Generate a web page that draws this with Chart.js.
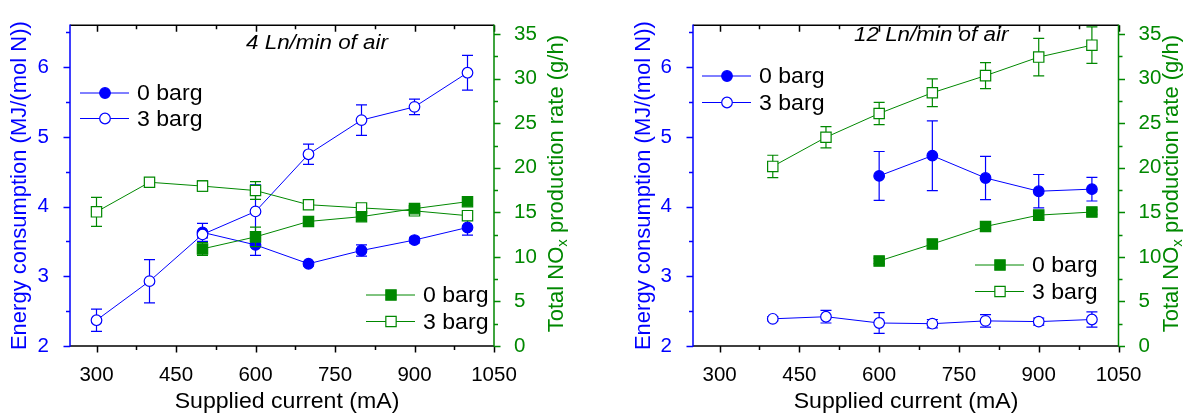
<!DOCTYPE html>
<html>
<head>
<meta charset="utf-8">
<title>Energy consumption and NOx production vs supplied current</title>
<script src="https://cdn.jsdelivr.net/npm/chart.js@4/dist/chart.umd.min.js"></script>
<style>
  html, body { margin: 0; padding: 0; background: #fff; }
  #wrap { position: relative; width: 1186px; height: 414px; overflow: hidden; }
  canvas { position: absolute; top: 0; }
</style>
</head>
<body>
<div id="wrap">
  <canvas id="panel4" width="593" height="414" style="left:0"></canvas>
  <canvas id="panel12" width="593" height="414" style="left:593px"></canvas>
</div>
<script>
// ---- measured data -------------------------------------------------------
const currents = [300, 400, 500, 600, 700, 800, 900, 1000];   // mA

// 4 Ln/min of air
const air4Energy0    = [null, null, 3.63, 3.45, 3.18, 3.37, 3.52, 3.70];   // MJ/(mol N)
const air4Energy0Err = [null, null, 0.13, 0.15, 0.03, 0.08, 0.04, 0.11];
const air4Energy3    = [2.37, 2.93, 3.60, 3.93, 4.75, 5.24, 5.43, 5.92];
const air4Energy3Err = [0.16, 0.31, 0.05, 0.38, 0.145, 0.22, 0.11, 0.25];
const air4Nox0       = [null, null, 10.9, 12.25, 13.98, 14.52, 15.42, 16.2]; // g/h
const air4Nox0Err    = [null, null, 0.72, 1.10, 0.30, 0.35, 0.40, 0.30];
const air4Nox3       = [15.06, 18.38, 17.95, 17.45, 15.86, 15.5, 15.17, 14.63];
const air4Nox3Err    = [1.63, 0.25, 0.60, 1.00, 0.35, 0.30, 0.35, 0.30];

// 12 Ln/min of air
const air12Energy0    = [null, null, null, 4.44, 4.73, 4.41, 4.22, 4.25];
const air12Energy0Err = [null, null, null, 0.35, 0.50, 0.31, 0.24, 0.17];
const air12Energy3    = [null, 2.39, 2.42, 2.33, 2.32, 2.36, 2.35, 2.38];
const air12Energy3Err = [null, 0.03, 0.09, 0.15, 0.06, 0.09, 0.05, 0.11];
const air12Nox0       = [null, null, null, 9.54, 11.45, 13.42, 14.69, 15.04];
const air12Nox0Err    = [null, null, null, 0.30, 0.45, 0.35, 0.35, 0.25];
const air12Nox3       = [null, 20.16, 23.43, 26.1, 28.43, 30.35, 32.43, 33.77];
const air12Nox3Err    = [null, 1.25, 1.20, 1.25, 1.55, 1.45, 2.10, 2.05];

// axis ticks (majors are labelled, the rest are minor marks)
const currentTicks = [300, 375, 450, 525, 600, 675, 750, 825, 900, 975, 1050];
const energyTicks  = [2, 2.5, 3, 3.5, 4, 4.5, 5, 5.5, 6, 6.5];
const noxTicks     = [0, 2.5, 5, 7.5, 10, 12.5, 15, 17.5, 20, 22.5, 25, 27.5, 30, 32.5, 35];

const seriesNames = ['0 barg', '3 barg'];

// ---- styling -------------------------------------------------------------
const BLUE = '#0000ff';
const GREEN = '#008800';
const FONT = "'Liberation Sans', Arial, sans-serif";

const isMajor = {
  x:  v => (v - 300) % 150 === 0,
  yE: v => Number.isInteger(v),
  yN: v => v % 5 === 0
};

function points(ys, errs) {
  const out = [];
  currents.forEach((x, i) => {
    if (ys[i] !== null) out.push({ x: x, y: ys[i], err: errs[i] });
  });
  return out;
}

function series(label, ys, errs, axis, color, filled, shape) {
  return {
    label: label,
    data: points(ys, errs),
    yAxisID: axis,
    borderColor: color,
    backgroundColor: color,
    borderWidth: 1,
    pointStyle: shape,
    pointRadius: shape === 'rect' ? 7.3 : 5.3,
    pointBorderWidth: 1.2,
    pointBorderColor: color,
    pointBackgroundColor: filled ? color : '#ffffff',
    fill: false,
    tension: 0
  };
}

// error bars, drawn just before the dataset they belong to
const errorBars = {
  id: 'errorBars',
  beforeDatasetDraw(chart, args) {
    const ds = chart.data.datasets[args.index];
    const meta = args.meta;
    const ys = chart.scales[ds.yAxisID];
    const ctx = chart.ctx;
    ctx.save();
    ctx.strokeStyle = ds.borderColor;
    ctx.lineWidth = 1.2;
    meta.data.forEach((el, i) => {
      const p = ds.data[i];
      if (!p.err) return;
      const x = el.x;
      const yTop = ys.getPixelForValue(p.y + p.err);
      const yBot = ys.getPixelForValue(p.y - p.err);
      ctx.beginPath();
      ctx.moveTo(x, yTop); ctx.lineTo(x, yBot);
      ctx.moveTo(x - 5.5, yTop); ctx.lineTo(x + 5.5, yTop);
      ctx.moveTo(x - 5.5, yBot); ctx.lineTo(x + 5.5, yBot);
      ctx.stroke();
    });
    ctx.restore();
  }
};

// frame lines and tick marks of all four sides
const frame = {
  id: 'frame',
  afterDraw(chart) {
    const ctx = chart.ctx;
    const a = chart.chartArea;
    const sx = chart.scales.x, sE = chart.scales.yE, sN = chart.scales.yN;
    const MAJ = 6.5, MIN = 4;
    ctx.save();
    ctx.lineWidth = 1.5;
    ctx.lineCap = 'butt';
    // bottom + top (black)
    ctx.strokeStyle = '#000';
    ctx.beginPath();
    ctx.moveTo(a.left, a.bottom); ctx.lineTo(a.right, a.bottom);
    ctx.moveTo(a.left, a.top); ctx.lineTo(a.right, a.top);
    sx.ticks.forEach(t => {
      const x = Math.round(sx.getPixelForValue(t.value)) + 0.5;
      const len = isMajor.x(t.value) ? MAJ : MIN;
      ctx.moveTo(x, a.bottom); ctx.lineTo(x, a.bottom + len);
      ctx.moveTo(x, a.top); ctx.lineTo(x, a.top + len);
    });
    ctx.stroke();
    // left (blue)
    ctx.strokeStyle = BLUE;
    ctx.beginPath();
    ctx.moveTo(a.left, a.top - 0.75); ctx.lineTo(a.left, a.bottom + 0.75);
    sE.ticks.forEach(t => {
      const y = Math.round(sE.getPixelForValue(t.value)) + 0.5;
      const len = isMajor.yE(t.value) ? MAJ : MIN;
      ctx.moveTo(a.left, y); ctx.lineTo(a.left - len, y);
    });
    ctx.stroke();
    // right (green)
    ctx.strokeStyle = GREEN;
    ctx.beginPath();
    ctx.moveTo(a.right, a.top - 0.75); ctx.lineTo(a.right, a.bottom + 0.75);
    sN.ticks.forEach(t => {
      const y = Math.round(sN.getPixelForValue(t.value)) + 0.5;
      const len = isMajor.yN(t.value) ? MAJ : MIN;
      ctx.moveTo(a.right, y); ctx.lineTo(a.right + len, y);
    });
    ctx.stroke();
    ctx.restore();
  }
};

// axis titles, in-plot note and the two split legends
const annotations = {
  id: 'annotations',
  afterDraw(chart, args, o) {
    const ctx = chart.ctx;
    const a = chart.chartArea;
    const WIDE = 1.05;
    ctx.save();
    ctx.textBaseline = 'middle';

    // x title
    ctx.save();
    ctx.fillStyle = '#000';
    ctx.font = '22px ' + FONT;
    ctx.textAlign = 'center';
    ctx.translate(o.xTitleX, 402);
    ctx.scale(WIDE, 1);
    ctx.fillText('Supplied current (mA)', 0, 0);
    ctx.restore();

    // left title
    ctx.save();
    ctx.translate(o.leftTitleX, (a.top + a.bottom) / 2);
    ctx.rotate(-Math.PI / 2);
    ctx.fillStyle = BLUE;
    ctx.font = '22px ' + FONT;
    ctx.textAlign = 'center';
    ctx.fillText('Energy consumption (MJ/(mol N))', 0, 0);
    ctx.restore();

    // right title with subscript
    ctx.save();
    ctx.translate(o.rightTitleX, (a.top + a.bottom) / 2 - 2);
    ctx.rotate(-Math.PI / 2);
    ctx.fillStyle = GREEN;
    ctx.textAlign = 'left';
    const big = '22px ' + FONT, small = '15px ' + FONT;
    const p1 = 'Total NO', p2 = 'x', p3 = ' production rate (g/h)';
    ctx.font = big;  const w1 = ctx.measureText(p1).width, w3 = ctx.measureText(p3).width;
    ctx.font = small; const w2 = ctx.measureText(p2).width;
    let x0 = -(w1 + w2 + w3) / 2;
    ctx.font = big;  ctx.fillText(p1, x0, 0);
    ctx.font = small; ctx.fillText(p2, x0 + w1, 6);
    ctx.font = big;  ctx.fillText(p3, x0 + w1 + w2, 0);
    ctx.restore();

    // note
    ctx.fillStyle = '#000';
    ctx.textAlign = 'left';
    ctx.font = 'italic 20px ' + FONT;
    ctx.save();
    ctx.translate(o.noteX, o.noteY);
    ctx.scale(1.12, 1);
    ctx.fillText(o.note, 0, 0);
    ctx.restore();

    // legends
    const drawLegend = (lg, idxs) => {
      idxs.forEach((di, row) => {
        const ds = chart.data.datasets[di];
        const y = lg.y + row * lg.dy;
        ctx.strokeStyle = ds.borderColor;
        ctx.lineWidth = 1;
        ctx.beginPath();
        ctx.moveTo(lg.x, y); ctx.lineTo(lg.x + 49, y);
        ctx.stroke();
        ctx.fillStyle = ds.pointBackgroundColor;
        ctx.strokeStyle = ds.pointBorderColor;
        ctx.lineWidth = ds.pointBorderWidth;
        ctx.beginPath();
        if (ds.pointStyle === 'rect') {
          const h = ds.pointRadius * Math.SQRT1_2;
          ctx.rect(lg.x + 25 - h, y - h, 2 * h, 2 * h);
        } else {
          ctx.arc(lg.x + 25, y, ds.pointRadius, 0, Math.PI * 2);
        }
        ctx.fill(); ctx.stroke();
        ctx.save();
        ctx.fillStyle = '#000';
        ctx.font = '22px ' + FONT;
        ctx.textAlign = 'left';
        ctx.translate(lg.x + 57, y + 1);
        ctx.scale(WIDE, 1);
        ctx.fillText(ds.label, 0, 0);
        ctx.restore();
      });
    };
    drawLegend(o.blueLegend, [3, 2]);
    drawLegend(o.greenLegend, [0, 1]);
    ctx.restore();
  }
};

function makeChart(id, d, L) {
  const datasets = [
    series(seriesNames[0], d.nox0, d.nox0Err, 'yN', GREEN, true, 'rect'),
    series(seriesNames[1], d.nox3, d.nox3Err, 'yN', GREEN, false, 'rect'),
    series(seriesNames[1], d.energy3, d.energy3Err, 'yE', BLUE, false, 'circle'),
    series(seriesNames[0], d.energy0, d.energy0Err, 'yE', BLUE, true, 'circle')
  ];
  const tickFont = { family: FONT, size: 20.5 };
  return new Chart(document.getElementById(id), {
    type: 'line',
    data: { datasets },
    plugins: [errorBars, frame, annotations],
    options: {
      responsive: false,
      animation: false,
      devicePixelRatio: 1,
      layout: { padding: { top: L.top, left: 0, right: 0, bottom: 0 } },
      plugins: {
        legend: { display: false },
        tooltip: { enabled: false },
        annotations: L.ann
      },
      scales: {
        x: {
          type: 'linear', position: 'bottom', min: 250, max: 1050,
          afterBuildTicks: s => { s.ticks = currentTicks.map(v => ({ value: v })); },
          afterFit: s => { s.height = 414 - L.bottom; },
          grid: { display: false }, border: { display: false },
          ticks: {
            font: tickFont, color: '#000', padding: 9, autoSkip: false, maxRotation: 0,
            callback: v => isMajor.x(v) ? String(v) : ''
          }
        },
        yE: {
          type: 'linear', position: 'left', min: 2, max: 6.6,
          afterBuildTicks: s => { s.ticks = energyTicks.map(v => ({ value: v })); },
          afterFit: s => { s.width = L.leftW; },
          grid: { display: false }, border: { display: false },
          ticks: {
            font: tickFont, color: BLUE, padding: 13, autoSkip: false,
            callback: v => isMajor.yE(v) ? String(v) : ''
          }
        },
        yN: {
          type: 'linear', position: 'right', min: 0, max: 36,
          afterBuildTicks: s => { s.ticks = noxTicks.map(v => ({ value: v })); },
          afterFit: s => { s.width = L.rightW; },
          grid: { display: false }, border: { display: false },
          ticks: {
            font: tickFont, color: GREEN, padding: 12, autoSkip: false,
            callback: v => isMajor.yN(v) ? String(v) : ''
          }
        }
      }
    }
  });
}

makeChart('panel4', {
  energy0: air4Energy0, energy0Err: air4Energy0Err,
  energy3: air4Energy3, energy3Err: air4Energy3Err,
  nox0: air4Nox0, nox0Err: air4Nox0Err,
  nox3: air4Nox3, nox3Err: air4Nox3Err
}, {
  top: 13, bottom: 346, leftW: 70, rightW: 99,
  ann: {
    xTitleX: 287, leftTitleX: 20, rightTitleX: 557,
    note: '4 Ln/min of air', noteX: 246, noteY: 43,
    blueLegend: { x: 80, y: 93, dy: 25.5 },
    greenLegend: { x: 366, y: 295, dy: 26.5 }
  }
});

makeChart('panel12', {
  energy0: air12Energy0, energy0Err: air12Energy0Err,
  energy3: air12Energy3, energy3Err: air12Energy3Err,
  nox0: air12Nox0, nox0Err: air12Nox0Err,
  nox3: air12Nox3, nox3Err: air12Nox3Err
}, {
  top: 11, bottom: 346, leftW: 100, rightW: 67.5,
  ann: {
    xTitleX: 313, leftTitleX: 51, rightTitleX: 579,
    note: '12 Ln/min of air', noteX: 261, noteY: 35,
    blueLegend: { x: 109, y: 76, dy: 26.5 },
    greenLegend: { x: 382, y: 265, dy: 26.5 }
  }
});
</script>
</body>
</html>
